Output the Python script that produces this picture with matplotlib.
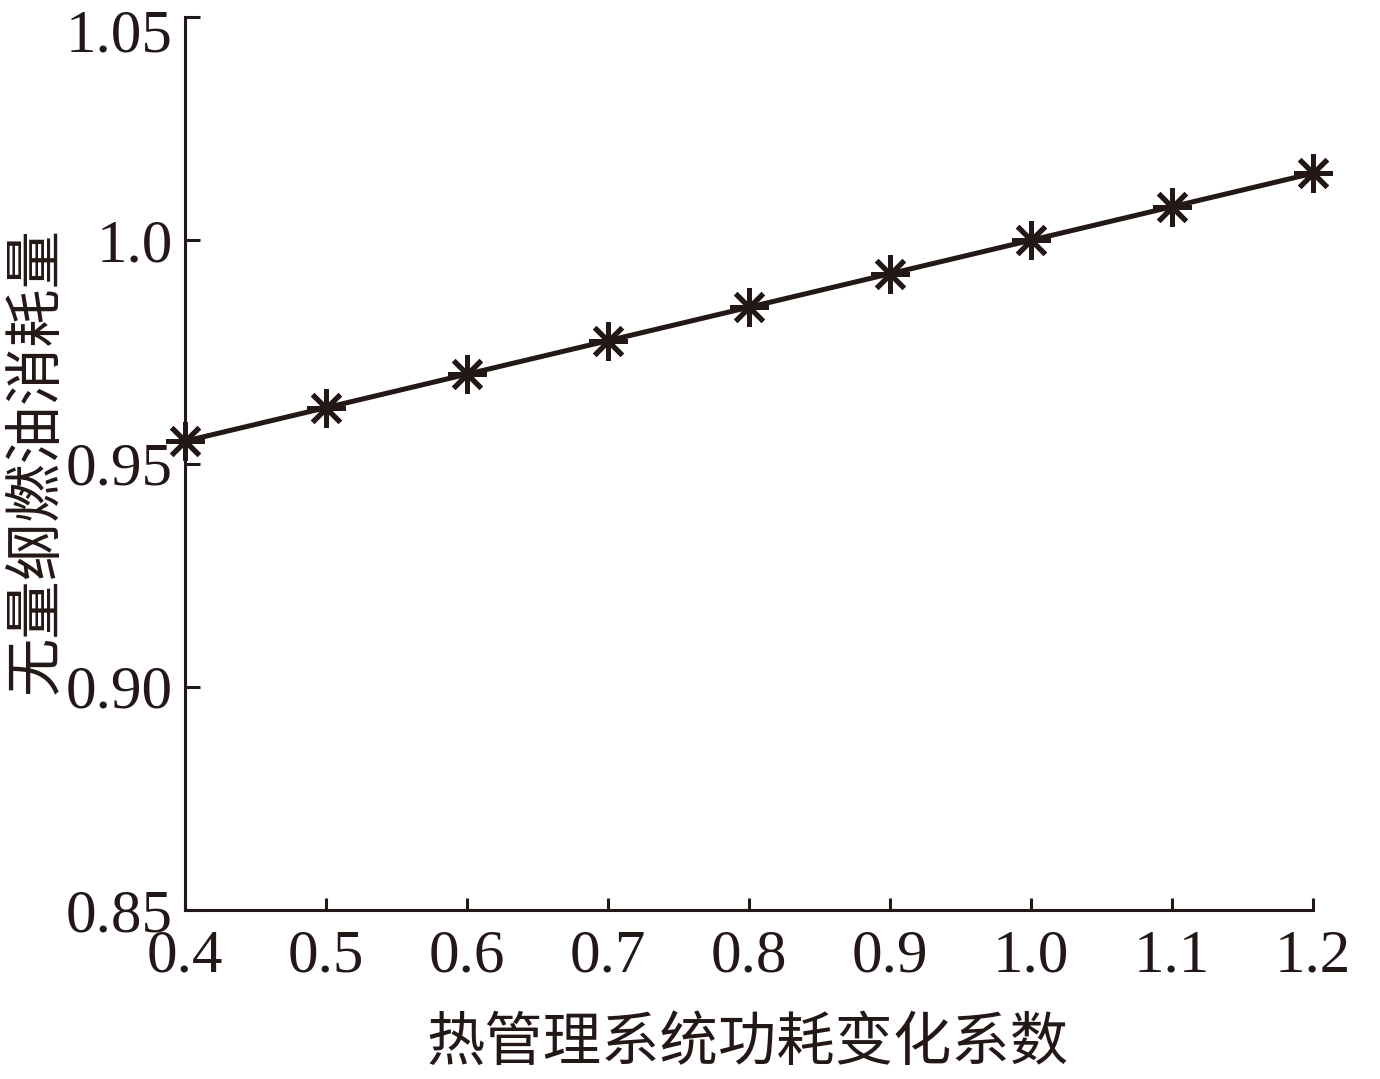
import matplotlib
matplotlib.use("Agg")
import matplotlib.pyplot as plt
import matplotlib.transforms as mtransforms

# Data
x_vals = [0.4, 0.5, 0.6, 0.7, 0.8, 0.9, 1.0, 1.1, 1.2]
y_vals = [0.955, 0.9625, 0.970, 0.9775, 0.985, 0.9925, 1.000, 1.0075, 1.015]
x_ticks = [0.4, 0.5, 0.6, 0.7, 0.8, 0.9, 1.0, 1.1, 1.2]
x_ticklabels = ["0.4", "0.5", "0.6", "0.7", "0.8", "0.9", "1.0", "1.1", "1.2"]
y_ticks = [0.85, 0.90, 0.95, 1.00, 1.05]
y_ticklabels = ["0.85", "0.90", "0.95", "1.0", "1.05"]
x_label = "热管理系统功耗变化系数"
y_label = "无量纲燃油消耗量"

ink = "#231815"
num_font = ["Liberation Serif", "DejaVu Serif"]
cjk_font = ["Noto Sans CJK SC", "DejaVu Sans"]

fig = plt.figure(figsize=(13.8, 10.79), dpi=100)
ax = fig.add_axes([185/1380, 1-910/1079, (1313-185)/1380, (910-17)/1079])

ax.plot(x_vals, y_vals, color=ink, linewidth=3.6, marker=(8, 2, 0),
        markersize=28, markeredgewidth=3.6, markeredgecolor=ink, clip_on=False, zorder=3)

ax.set_xlim(0.4, 1.2)
ax.set_ylim(0.85, 1.05)
for s in ["top", "right"]:
    ax.spines[s].set_visible(False)
for s in ["left", "bottom"]:
    ax.spines[s].set_linewidth(2.2)
    ax.spines[s].set_color(ink)

ax.set_xticks(x_ticks)
ax.set_xticklabels(x_ticklabels, fontfamily=num_font, fontsize=44, color=ink)
ax.set_yticks(y_ticks)
ax.set_yticklabels(y_ticklabels, fontfamily=num_font, fontsize=44, color=ink)
ax.tick_params(axis="x", direction="in", length=9, width=2.2, color=ink, pad=14)
ax.tick_params(axis="y", direction="in", length=11, width=2.2, color=ink, pad=9)

# nudge the top y label down so it stays inside the figure (as in the reference)
top_lbl = ax.get_yticklabels()[-1]
top_lbl.set_transform(top_lbl.get_transform() +
                      mtransforms.ScaledTranslation(0, -13/100, fig.dpi_scale_trans))

fig.text(748/1380, 1-1043/1079, x_label, fontfamily=cjk_font, fontsize=42,
         color=ink, ha="center", va="center")
fig.text(36/1380, 1-460/1079, y_label, fontfamily=cjk_font, fontsize=42,
         color=ink, ha="center", va="center", rotation=90)

fig.savefig("out.png", dpi=100, facecolor="white")
